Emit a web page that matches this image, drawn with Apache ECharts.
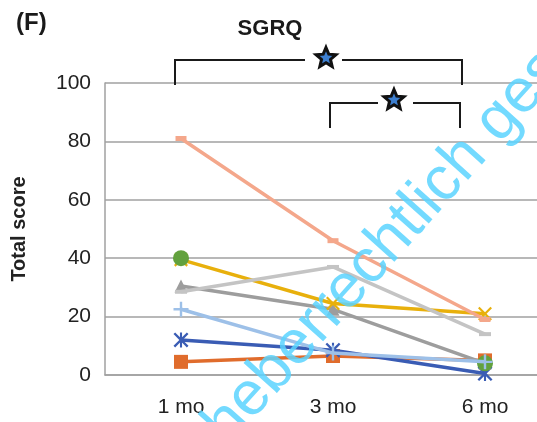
<!DOCTYPE html>
<html><head><meta charset="utf-8">
<script src="https://cdn.jsdelivr.net/npm/echarts@6/dist/echarts.min.js"></script>
<style>html,body{margin:0;padding:0;background:#fff}#c{width:537px;height:422px}</style>
</head><body><div id="c"></div>
<script>
var categories = ['1 mo', '3 mo', '6 mo'];
var yTicks = [0, 20, 40, 60, 80, 100];
var sOrange = [4.5, 6.5, 5];
var sDarkBlue = [12, 8.5, 0.5];
var sGray = [30.5, 22.5, 4];
var sGold = [39.5, 24.5, 21];
var sGreen = [40, null, 4];
var sLightGray = [28.5, 37, 14];
var sLightBlue = [22.5, 7.5, 4.5];
var sPink = [81, 46, 19];

var PLUS = 'path://M4.2,0H5.8V4.2H10V5.8H5.8V10H4.2V5.8H0V4.2H4.2Z';
var XMARK = 'path://M0,1.1L1.1,0L5,3.9L8.9,0L10,1.1L6.1,5L10,8.9L8.9,10L5,6.1L1.1,10L0,8.9L3.9,5Z';
var ASTER = 'path://M0,1.1L1.1,0L5,3.9L8.9,0L10,1.1L6.1,5L10,8.9L8.9,10L5,6.1L1.1,10L0,8.9L3.9,5Z M4.3,0H5.7V10H4.3Z';

function ser(name, data, color, symbol, size, z) {
  return {
    name: name, type: 'line', data: data, z: z,
    symbol: symbol, symbolSize: size, showAllSymbol: true,
    connectNulls: false,
    lineStyle: {color: color, width: 3.5},
    itemStyle: {color: color, borderWidth: 0},
    emphasis: {disabled: true}, animation: false
  };
}

var chart = echarts.init(document.getElementById('c'), null, {renderer: 'canvas'});

function star(cx, cy, R) {
  var pts = [];
  var r = R * 0.45;
  for (var i = 0; i < 10; i++) {
    var a = -Math.PI / 2 + i * Math.PI / 5;
    var rr = i % 2 === 0 ? R : r;
    pts.push([cx + rr * Math.cos(a), cy + rr * Math.sin(a)]);
  }
  return {type: 'polygon', shape: {points: pts}, style: {fill: '#3d7fd0', stroke: '#111', lineWidth: 3, lineJoin: 'miter'}, z: 100};
}
function bracket(pts) {
  return {type: 'polyline', shape: {points: pts}, style: {stroke: '#1a1a1a', lineWidth: 2, fill: null}, z: 100};
}

var option = {
  animation: false,
  backgroundColor: '#fff',
  grid: {left: 105, top: 83, bottom: 47, width: 456, outerBoundsMode: 'none', containLabel: false},
  xAxis: {
    type: 'category', data: categories, boundaryGap: true,
    axisLine: {show: true, lineStyle: {color: '#a0a0a0', width: 1.5}},
    axisTick: {show: false},
    axisLabel: {color: '#222', fontSize: 21, fontFamily: 'Liberation Sans, Arial', margin: 22}
  },
  yAxis: {
    type: 'value', min: 0, max: 100, interval: 20,
    name: 'Total score', nameLocation: 'middle', nameRotate: 90, nameGap: 76,
    nameTextStyle: {color: '#222', fontSize: 20, fontWeight: 'bold', fontFamily: 'Liberation Sans, Arial'},
    axisLine: {show: true, lineStyle: {color: '#a0a0a0', width: 1.5}},
    axisTick: {show: false},
    splitLine: {lineStyle: {color: '#a0a0a0', width: 1.5}},
    axisLabel: {color: '#222', fontSize: 21, fontFamily: 'Liberation Sans, Arial', margin: 14,
      formatter: function (v) { return yTicks.indexOf(v) >= 0 ? String(v) : ''; }}
  },
  series: [
    ser('A', sOrange, '#e06c2c', 'rect', 14, 2),
    ser('B', sDarkBlue, '#3a5cb4', ASTER, 15, 3),
    ser('C', sGray, '#9d9d9d', 'triangle', 13, 4),
    ser('D', sGold, '#e8b00c', XMARK, 14, 5),
    ser('E', sGreen, '#62a13e', 'circle', 16, 6),
    ser('F', sLightGray, '#c4c4c4', 'rect', [12, 4], 7),
    ser('G', sLightBlue, '#9dc0e8', PLUS, 15, 8),
    ser('H', sPink, '#f4a78b', 'rect', [11, 5], 9)
  ],
  graphic: [
    {type: 'text', left: 16, top: 11, z: 100, style: {text: '(F)', fontSize: 24, fontWeight: 'bold', fill: '#1a1a1a', fontFamily: 'Liberation Sans, Arial'}},
    {type: 'text', x: 270, y: 29, z: 100, style: {text: 'SGRQ', fontSize: 22, fontWeight: 'bold', fill: '#1a1a1a', align: 'center', verticalAlign: 'middle', fontFamily: 'Liberation Sans, Arial'}},
    bracket([[175, 85], [175, 60], [305, 60]]),
    bracket([[342, 60], [462, 60], [462, 85]]),
    bracket([[330, 128], [330, 103], [378, 103]]),
    bracket([[413, 103], [460, 103], [460, 128]]),
    star(326, 58, 10.5),
    star(394, 100, 10.5),
    {type: 'text', x: 418, y: 210, rotation: 0.84, z: 200,
      style: {text: 'Urheberrechtlich geschützt', fontSize: 62, fill: 'rgba(90,212,255,0.85)', align: 'center', verticalAlign: 'middle', fontFamily: 'Liberation Sans, Arial'}}
  ]
};
chart.setOption(option);
</script>
</body></html>
